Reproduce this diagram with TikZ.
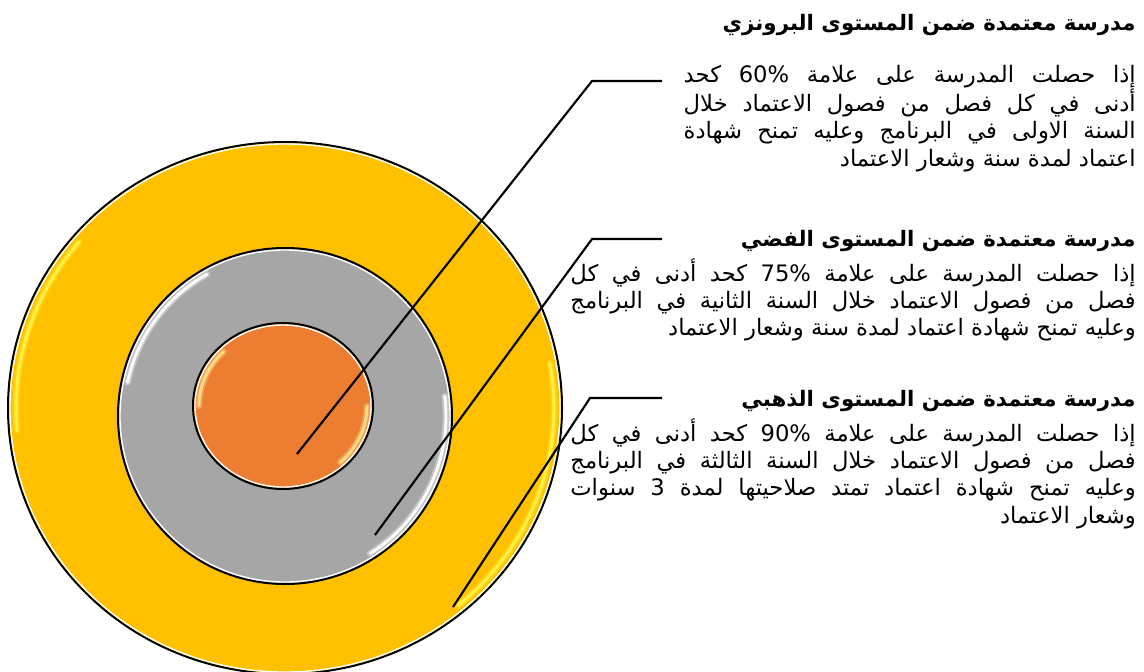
\documentclass[tikz,border=0pt]{standalone}
\usepackage{fontspec}
\usetikzlibrary{positioning}
\TeXXeTstate=1
\newfontfamily\arabicFont[Script=Arabic]{DejaVu Sans}
\definecolor{goldColor}{RGB}{255,192,0}
\definecolor{silverColor}{RGB}{166,166,166}
\definecolor{bronzeColor}{RGB}{237,125,49}
\definecolor{goldGloss}{RGB}{255,245,70}
\definecolor{bronzeGloss}{RGB}{255,225,140}
\tikzstyle{ringStyle} = [draw=black, line width=1.5pt]
\tikzstyle{rimStyle} = [draw=white, line width=1pt]
\tikzstyle{glossStyle} = [line width=2.2pt, line cap=round, opacity=.9]
\tikzstyle{glossHalo} = [line width=5pt, line cap=round, opacity=.35]
\tikzstyle{leaderLine} = [draw=black, line width=1.6pt]
\tikzstyle{levelTitle} = [anchor=base east, inner sep=0pt, font=\arabicFont\bfseries\fontsize{16pt}{19pt}\selectfont]
\tikzstyle{levelBody} = [anchor=base east, inner sep=0pt, font=\arabicFont\fontsize{17pt}{20.5pt}\selectfont]
\newcommand{\narrowWidth}{339pt}
\newcommand{\wideWidth}{424pt}
\newcommand{\fullLine}[2]{\hbox to #1{#2}}
\newcommand{\lastLine}[2]{\hbox to #1{\hfil #2}}
\newcommand{\levelRing}[5]{
  \filldraw [ringStyle, fill=#5] (#1,#2) ellipse [x radius=#3, y radius=#4];
  \draw [rimStyle] (#1,#2) ellipse [x radius=#3-2, y radius=#4-2];
}
\newcommand{\glossArc}[7]{
  \draw [glossHalo, #7] (#1,#2) ++(#5:#3 and #4) arc [start angle=#5, end angle=#6, x radius=#3, y radius=#4];
  \draw [glossStyle, #7] (#1,#2) ++(#5:#3 and #4) arc [start angle=#5, end angle=#6, x radius=#3, y radius=#4];
}

\begin{document}
\begin{tikzpicture}[x=.75pt, y=-.75pt]
  \useasboundingbox (0,0) rectangle (1144,671);

  % rings, outside in
  \levelRing{285}{408}{277}{266}{goldColor}
  \glossArc{285}{408}{269}{258}{-140}{-185}{goldGloss}
  \glossArc{285}{408}{269}{258}{-10}{50}{goldGloss}
  \levelRing{285}{416}{167}{168}{silverColor}
  \glossArc{285}{416}{161}{162}{-119}{-168}{white}
  \glossArc{285}{416}{161}{162}{-7}{58}{white}
  \levelRing{283}{406}{90}{83}{bronzeColor}
  \glossArc{283}{406}{84}{77}{-135}{-180}{bronzeGloss}
  \glossArc{283}{406}{84}{77}{0}{47}{bronzeGloss}

  % leader lines
  \coordinate (bronzeTip) at (297,454);
  \coordinate (bronzeBend) at (592,81);
  \coordinate (bronzeEnd) at (662,81);
  \coordinate (silverTip) at (375,535);
  \coordinate (silverBend) at (592,239);
  \coordinate (silverEnd) at (662,239);
  \coordinate (goldTip) at (453,607);
  \coordinate (goldBend) at (590,398);
  \coordinate (goldEnd) at (662,398);
  \draw [leaderLine] (bronzeTip) -- (bronzeBend) -- (bronzeEnd);
  \draw [leaderLine] (silverTip) -- (silverBend) -- (silverEnd);
  \draw [leaderLine] (goldTip) -- (goldBend) -- (goldEnd);

  % texts
  \node [levelTitle] (bronzeTitle) at (1136,30) {\beginR مدرسة معتمدة ضمن المستوى البرونزي\endR};
  \node [levelBody] (bronzeBody) at (1136,82) {\vtop{
    \fullLine{\narrowWidth}{\beginR إذا حصلت المدرسة على علامة \beginL 60\%\endL{} كحد\endR}
    \fullLine{\narrowWidth}{\beginR أدنى في كل فصل من فصول الاعتماد خلال\endR}
    \fullLine{\narrowWidth}{\beginR السنة الاولى في البرنامج وعليه تمنح شهادة\endR}
    \lastLine{\narrowWidth}{\beginR اعتماد لمدة سنة وشعار الاعتماد\endR}}};

  \node [levelTitle] (silverTitle) at (1136,246) {\beginR مدرسة معتمدة ضمن المستوى الفضي\endR};
  \node [levelBody] (silverBody) at (1136,281) {\vtop{
    \fullLine{\wideWidth}{\beginR إذا حصلت المدرسة على علامة \beginL 75\%\endL{} كحد أدنى في كل\endR}
    \fullLine{\wideWidth}{\beginR فصل من فصول الاعتماد خلال السنة الثانية في البرنامج\endR}
    \lastLine{\wideWidth}{\beginR وعليه تمنح شهادة اعتماد لمدة سنة وشعار الاعتماد\endR}}};

  \node [levelTitle] (goldTitle) at (1136,406) {\beginR مدرسة معتمدة ضمن المستوى الذهبي\endR};
  \node [levelBody] (goldBody) at (1136,441) {\vtop{
    \fullLine{\wideWidth}{\beginR إذا حصلت المدرسة على علامة \beginL 90\%\endL{} كحد أدنى في كل\endR}
    \fullLine{\wideWidth}{\beginR فصل من فصول الاعتماد خلال السنة الثالثة في البرنامج\endR}
    \fullLine{\wideWidth}{\beginR وعليه تمنح شهادة اعتماد تمتد صلاحيتها لمدة \beginL 3\endL{} سنوات\endR}
    \lastLine{\wideWidth}{\beginR وشعار الاعتماد\endR}}};
\end{tikzpicture}
\end{document}
